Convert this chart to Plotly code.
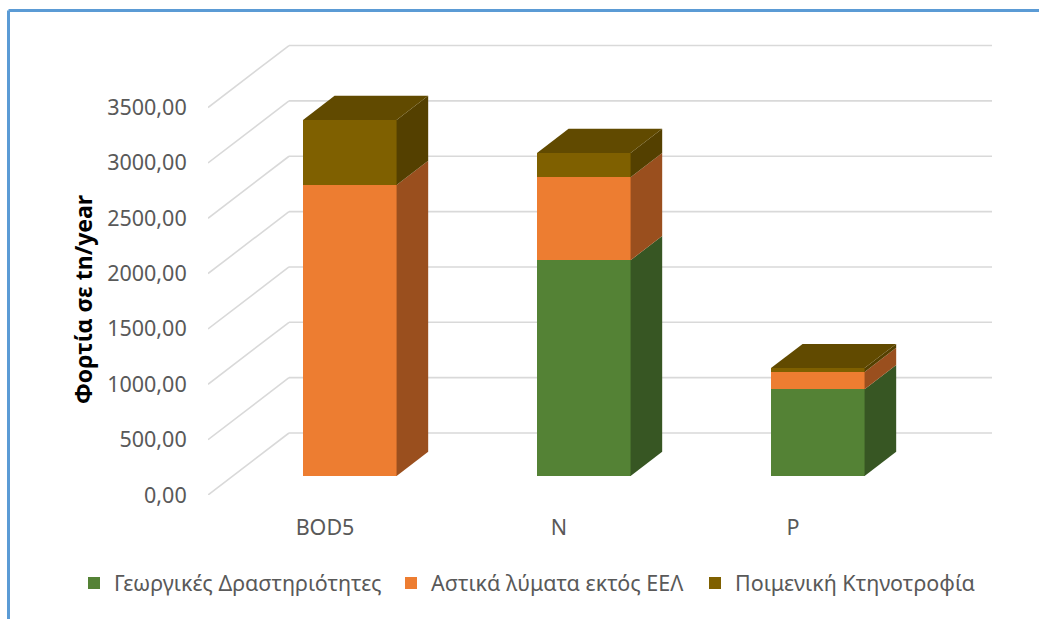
import plotly.graph_objects as go

# Pollution loads per parameter, stacked by source (tn/year)
categories = ["BOD5", "N", "P"]
series_names = ["Γεωργικές Δραστηριότητες", "Αστικά λύματα εκτός ΕΕΛ", "Ποιμενική Κτηνοτροφία"]
agriculture = [0, 1950, 785]
urban_waste = [2630, 750, 155]
livestock = [586, 218, 35]
y_ticks = [0, 500, 1000, 1500, 2000, 2500, 3000, 3500]
y_tick_labels = ["0,00", "500,00", "1000,00", "1500,00", "2000,00", "2500,00", "3000,00", "3500,00"]
y_title = "Φορτία σε tn/year"

front_colors = ["#548235", "#ED7D31", "#7F6000"]
side_colors = ["#375623", "#9A4F1E", "#544000"]
top_color = "#614A00"
grid_color = "#D9D9D9"
text_color = "#595959"
frame_color = "#5B9BD5"
font_family = "Noto Sans"

WIDTH, HEIGHT = 1039, 619
LEFT, RIGHT, TOP, BOTTOM = 208, 47, 40, 124
SLOT_PX = 234
UNIT_PX = 0.1107

# Oblique projection: one unit of depth shifts a point right and up
DEPTH_X = 81 / SLOT_PX
DEPTH_Y = 62 / UNIT_PX
BAR_NEAR, BAR_FAR = 0.306, 0.696
BAR_WIDTH = 0.4

x_low = -0.5
x_high = x_low + (WIDTH - LEFT - RIGHT) / SLOT_PX
y_high = (HEIGHT - TOP - BOTTOM) / UNIT_PX

plot_w = WIDTH - LEFT - RIGHT
plot_h = HEIGHT - TOP - BOTTOM


def project(x, value, depth):
    return x + depth * DEPTH_X, value + depth * DEPTH_Y


fig = go.Figure()

# Front faces, one legend box per series so the entries sit on one row
stacks = [agriculture, urban_waste, livestock]
bases = [[0, 0, 0]]
for values in stacks:
    bases.append([b + v for b, v in zip(bases[-1], values)])

legend_ids = ["legend", "legend2", "legend3"]
for name, values, base, color, legend_id in zip(series_names, stacks, bases, front_colors, legend_ids):
    near_x, near_lift = project(0, 0, BAR_NEAR)
    fig.add_trace(go.Bar(
        x=[i + near_x for i in range(len(categories))],
        y=values,
        base=[b + near_lift for b in base],
        width=BAR_WIDTH,
        name=name,
        legend=legend_id,
        showlegend=True,
        marker=dict(color=color, line=dict(width=0)),
    ))

# Right-hand side faces of each stacked segment
for values, base, color in zip(stacks, bases, side_colors):
    for i, (v, b) in enumerate(zip(values, base)):
        if v <= 0:
            continue
        edge = i + BAR_WIDTH / 2
        corners = [
            project(edge, b, BAR_NEAR),
            project(edge, b, BAR_FAR),
            project(edge, b + v, BAR_FAR),
            project(edge, b + v, BAR_NEAR),
            project(edge, b, BAR_NEAR),
        ]
        fig.add_trace(go.Scatter(
            x=[c[0] for c in corners], y=[c[1] for c in corners],
            mode="lines", fill="toself", fillcolor=color,
            line=dict(width=0), showlegend=False, hoverinfo="skip",
        ))

# Top faces of the stacks
for i, total in enumerate(bases[-1]):
    corners = [
        project(i - BAR_WIDTH / 2, total, BAR_NEAR),
        project(i - BAR_WIDTH / 2, total, BAR_FAR),
        project(i + BAR_WIDTH / 2, total, BAR_FAR),
        project(i + BAR_WIDTH / 2, total, BAR_NEAR),
        project(i - BAR_WIDTH / 2, total, BAR_NEAR),
    ]
    fig.add_trace(go.Scatter(
        x=[c[0] for c in corners], y=[c[1] for c in corners],
        mode="lines", fill="toself", fillcolor=top_color,
        line=dict(width=0), showlegend=False, hoverinfo="skip",
    ))

# Gridlines on the side wall and back wall, beneath the columns
shapes = []
grid_line = dict(color=grid_color, width=1.6)
for tick in y_ticks:
    x0, y0 = project(x_low, tick, 0)
    x1, y1 = project(x_low, tick, 1)
    shapes.append(dict(type="line", xref="x", yref="y", x0=x0, y0=y0, x1=x1, y1=y1,
                       line=grid_line, layer="below"))
    shapes.append(dict(type="line", xref="x", yref="y", x0=x1, y0=y1, x1=x_high, y1=y1,
                       line=grid_line, layer="below"))

# Chart frame along the top and left edges
frame_x = (8.5 - LEFT) / plot_w
frame_y = 1 + (TOP - 10.5) / plot_h
shapes.append(dict(type="line", xref="paper", yref="paper", x0=frame_x, x1=1 + RIGHT / plot_w,
                   y0=frame_y, y1=frame_y, line=dict(color=frame_color, width=3)))
shapes.append(dict(type="line", xref="paper", yref="paper", x0=frame_x, x1=frame_x,
                   y0=frame_y, y1=-BOTTOM / plot_h, line=dict(color=frame_color, width=3)))


def legend_box(left_px):
    return dict(
        orientation="h", x=(left_px - LEFT) / plot_w, xanchor="left",
        y=-(583 - (HEIGHT - BOTTOM)) / plot_h, yanchor="middle",
        font=dict(size=21.5, color=text_color), bgcolor="rgba(0,0,0,0)",
    )


fig.update_layout(
    width=WIDTH, height=HEIGHT,
    margin=dict(l=LEFT, r=RIGHT, t=TOP, b=BOTTOM),
    barmode="overlay",
    paper_bgcolor="white", plot_bgcolor="white",
    font=dict(family=font_family, size=20, color=text_color),
    shapes=shapes,
    bargap=0,
    legend=legend_box(74),
    legend2=legend_box(391),
    legend3=legend_box(695),
    annotations=[dict(
        text="<b>" + y_title + "</b>", textangle=-90, showarrow=False,
        xref="paper", yref="paper", xanchor="center", yanchor="middle",
        x=(83 - LEFT) / plot_w, y=1 - (300 - TOP) / plot_h,
        font=dict(size=23, color="black"),
    )],
    xaxis=dict(
        range=[x_low, x_high], tickmode="array", tickvals=list(range(len(categories))),
        ticktext=categories, showgrid=False, zeroline=False, showline=False,
        ticks="outside", ticklen=13, tickcolor="rgba(0,0,0,0)",
        tickfont=dict(size=21.5, color=text_color),
    ),
    yaxis=dict(
        range=[0, y_high], tickmode="array", tickvals=y_ticks, ticktext=y_tick_labels,
        showgrid=False, zeroline=False, showline=False,
        ticks="outside", ticklen=16, tickcolor="rgba(0,0,0,0)",
        tickfont=dict(size=21.5, color=text_color),
    ),
)

fig.write_html("out.html", config=dict(displayModeBar=False))
